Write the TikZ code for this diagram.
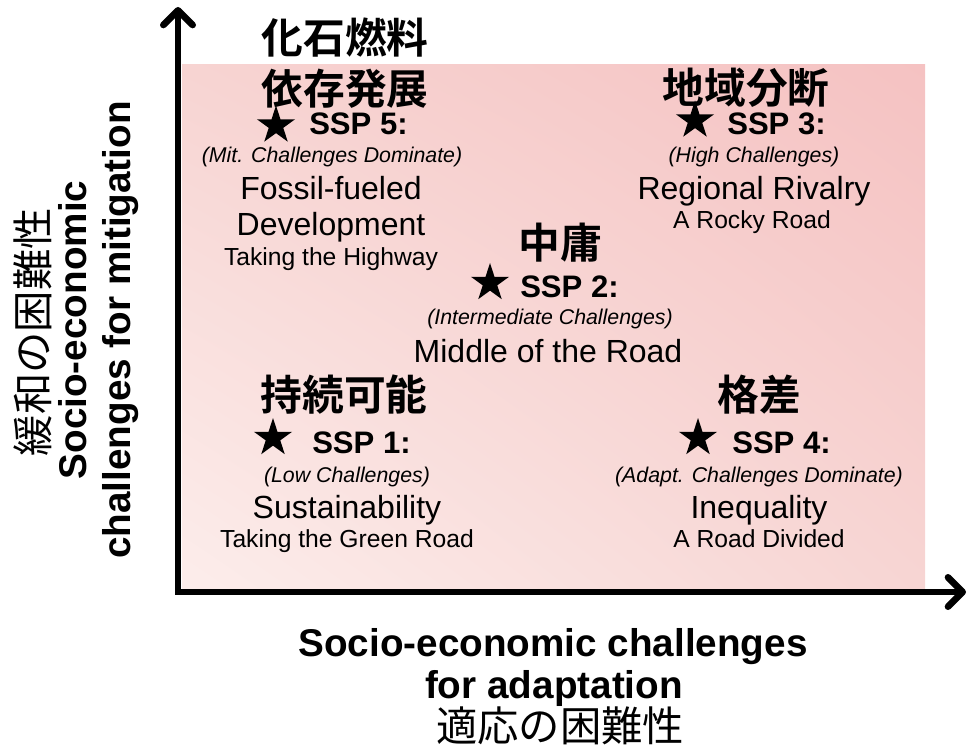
\documentclass[tikz,border=0pt]{standalone}
\usepackage{fontspec}
\setmainfont{Liberation Sans}
\newfontfamily\jp{Noto Sans CJK JP}[BoldFont={* Bold}]
\usetikzlibrary{arrows.meta, shapes.geometric, shadings}

% цвета фона
\definecolor{pinkUL}{RGB}{247,212,210}
\definecolor{pinkUR}{RGB}{245,194,194}
\definecolor{pinkLL}{RGB}{252,237,235}
\definecolor{pinkLR}{RGB}{247,213,211}

\tikzset{
	axis/.style={line width=5pt, line cap=round,
		{Straight Barb[length=11pt,width=22pt,round]}-{Straight Barb[length=11pt,width=22pt,round]}},
	jptitle/.style={font=\jp\bfseries\fontsize{31.3}{36}\selectfont, inner sep=0pt},
	jpaxis/.style={font=\jp\fontsize{31}{36}\selectfont, inner sep=0pt},
	enaxis/.style={font=\bfseries\fontsize{29}{34}\selectfont, inner sep=0pt, anchor=base},
	sspstar/.style={star, star points=5, star point ratio=2.618, fill=black,
		minimum size=30pt, inner sep=0pt},
	ssplabel/.style={font=\bfseries\fontsize{23.3}{28}\selectfont, inner sep=0pt, anchor=base west},
	challenge/.style={font=\itshape\fontsize{16}{19}\selectfont, inner sep=0pt, anchor=base},
	sspname/.style={font=\fontsize{24}{29}\selectfont, inner sep=0pt, anchor=base},
	road/.style={font=\fontsize{18.5}{22}\selectfont, inner sep=0pt, anchor=base}
}

\begin{document}
\begin{tikzpicture}[x=0.75pt, y=-0.75pt]
	% размеры картинки
	\useasboundingbox (0,0) rectangle (969,748);

	% розовое поле
	\shade[upper left=pinkUL, upper right=pinkUR, lower left=pinkLL, lower right=pinkLR]
		(182,65) rectangle (925,588);

	% оси
	\coordinate (top) at (178,7);
	\coordinate (origin) at (178,592);
	\coordinate (right) at (966,592);
	\draw[axis] (top) -- (origin) -- (right);

	% подписи осей
	\node[jpaxis, rotate=90] (ylabjp) at (33,332) {緩和の困難性};
	\node[enaxis, rotate=90] (ylab1) at (86,330) {Socio-economic};
	\node[enaxis, rotate=90] (ylab2) at (130,330) {challenges for mitigation};
	\node[enaxis] (xlab1) at (553,656) {Socio-economic challenges};
	\node[enaxis] (xlab2) at (554,698) {for adaptation};
	\node[jpaxis] (xlabjp) at (560,726) {適応の困難性};

	% SSP 5
	\node[jptitle] (jp5a) at (345,38) {化石燃料};
	\node[jptitle] (jp5b) at (345,89) {依存発展};
	\node[sspstar] (star5) at (276,125.5) {};
	\node[ssplabel] (ssp5) at (309,135) {SSP 5:};
	\node[challenge] (ch5) at (332,163) {(Mit. Challenges Dominate)};
	\node[sspname] (name5a) at (331,200) {Fossil-fueled};
	\node[sspname] (name5b) at (331,236) {Development};
	\node[road] (road5) at (331,266) {Taking the Highway};

	% SSP 3
	\node[jptitle] (jp3) at (746,88) {地域分断};
	\node[sspstar] (star3) at (695,120.5) {};
	\node[ssplabel] (ssp3) at (727,135) {SSP 3:};
	\node[challenge] (ch3) at (754,163) {(High Challenges)};
	\node[sspname] (name3) at (754,200) {Regional Rivalry};
	\node[road] (road3) at (752,229) {A Rocky Road};

	% SSP 2
	\node[jptitle] (jp2) at (560,243) {中庸};
	\node[sspstar] (star2) at (490,283) {};
	\node[ssplabel] (ssp2) at (520,297) {SSP 2:};
	\node[challenge] (ch2) at (550,324) {(Intermediate Challenges)};
	\node[sspname] (name2) at (548,362) {Middle of the Road};

	% SSP 1
	\node[jptitle] (jp1) at (344,395) {持続可能};
	\node[sspstar] (star1) at (273,438) {};
	\node[ssplabel] (ssp1) at (312,453) {SSP 1:};
	\node[challenge] (ch1) at (347,482) {(Low Challenges)};
	\node[sspname] (name1) at (347,518) {Sustainability};
	\node[road] (road1) at (347,547) {Taking the Green Road};

	% SSP 4
	\node[jptitle] (jp4) at (759,395) {格差};
	\node[sspstar] (star4) at (698,438) {};
	\node[ssplabel] (ssp4) at (732,453) {SSP 4:};
	\node[challenge] (ch4) at (759,482) {(Adapt. Challenges Dominate)};
	\node[sspname] (name4) at (759,518) {Inequality};
	\node[road] (road4) at (759,547) {A Road Divided};
\end{tikzpicture}
\end{document}
